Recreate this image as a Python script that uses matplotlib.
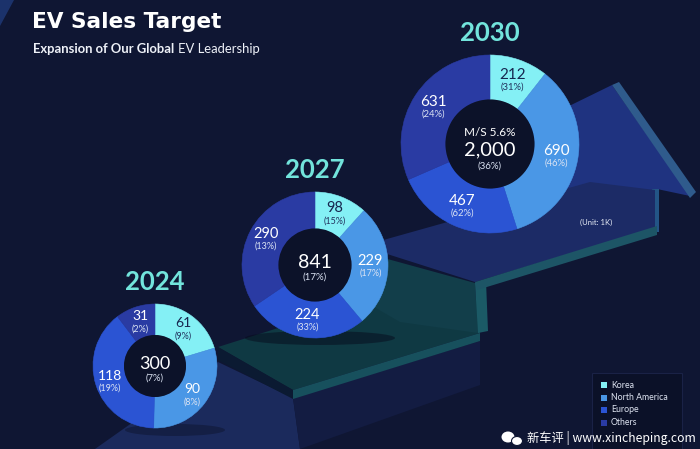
import matplotlib
matplotlib.use("Agg")
import matplotlib.pyplot as plt
from matplotlib.patches import Polygon, Circle, Rectangle, Ellipse
import numpy as np

# ---------------- data ----------------
regions = ["Korea", "North America", "Europe", "Others"]
years = ["2024", "2027", "2030"]
values_2024 = [61, 90, 118, 31]
values_2027 = [98, 229, 224, 290]
values_2030 = [212, 690, 467, 631]
growth_2024 = ["(9%)", "(8%)", "(19%)", "(2%)"]
growth_2027 = ["(15%)", "(17%)", "(33%)", "(13%)"]
growth_2030 = ["(31%)", "(46%)", "(62%)", "(24%)"]
totals = ["300", "841", "2,000"]
total_growth = ["(7%)", "(17%)", "(36%)"]
market_share_2030 = "M/S 5.6%"

# ---------------- style ----------------
W, H = 700, 449
BG = "#0f1633"
colors = ["#84f0f5", "#4a97e6", "#2b54d3", "#2a3ba3"]
year_color = "#72e4dc"
FONT = "Lato"

fig = plt.figure(figsize=(W / 100, H / 100), dpi=100, facecolor=BG)
ax = fig.add_axes([0, 0, 1, 1])
ax.set_facecolor(BG)


def Y(y):
    return H - y


def poly(pts, color, z=1, alpha=1.0):
    ax.add_patch(Polygon([(x, Y(y)) for x, y in pts], closed=True,
                         facecolor=color, edgecolor="none", zorder=z, alpha=alpha))


# ---------------- decorative staircase background ----------------
poly([(0, 0), (14, 0), (0, 26)], "#1f3a7a", 1, 0.8)
# lower step surface
poly([(95, 449), (218, 362), (293, 398), (300, 449)], "#1b2a5c", 1)
# front face of middle step
poly([(293, 398), (480, 341), (480, 385), (300, 449)], "#131c42", 1)
# middle step (teal) top surface
poly([(218, 347), (405, 288), (480, 300), (480, 333), (293, 390)], "#0f3943", 1)
# left dark side of middle step
poly([(218, 347), (293, 390), (293, 399), (218, 360)], "#0b1a32", 2)
# front edge band of middle step
poly([(293, 390), (480, 333), (480, 341), (293, 399)], "#17505d", 2)
# riser of upper step
poly([(362, 252), (475, 283), (478, 333), (400, 322), (362, 300)], "#123e4a", 2)
poly([(475, 283), (486, 281), (488, 331), (478, 333)], "#1b5a66", 2)
# arrow (shaft + head)
poly([(612, 85), (690, 196), (657, 189), (657, 230), (560, 252), (520, 130)], "#1f3380", 1)
poly([(612, 85), (619, 82), (696, 192), (690, 198)], "#2f5b8c", 2)
poly([(652, 189), (659, 189), (659, 232), (652, 232)], "#235586", 2)
# upper step surface
poly([(362, 246), (590, 182), (655, 190), (655, 228), (475, 282)], "#1c2b66", 2)
poly([(475, 282), (657, 226), (657, 235), (477, 290)], "#1d5566", 3)
# shadows under donuts
ax.add_patch(Ellipse((175, Y(430)), 100, 12, facecolor="#070b1c", alpha=0.35, zorder=3))
ax.add_patch(Ellipse((320, Y(338)), 150, 14, facecolor="#070b1c", alpha=0.5, zorder=3))

# ---------------- donuts ----------------
donuts = [
    dict(vals=values_2024, pct=growth_2024, c=(155, 366), r=62, nfs=10, pfs=6.5),
    dict(vals=values_2027, pct=growth_2027, c=(315, 265), r=73, nfs=10.5, pfs=6.5),
    dict(vals=values_2030, pct=growth_2030, c=(490, 144), r=89, nfs=11, pfs=6.8),
]

for d, yr, tot, tg in zip(donuts, years, totals, total_growth):
    cx, cy = d["c"]
    r = d["r"]
    vals = d["vals"]
    wedges, _ = ax.pie(vals, colors=colors, startangle=90, counterclock=False,
                       center=(cx, Y(cy)), radius=r,
                       wedgeprops=dict(width=r * 0.5, linewidth=0.4, zorder=5))
    for w, c in zip(wedges, colors):
        w.set_edgecolor(c)
    ax.add_patch(Circle((cx, Y(cy)), r * 0.5, facecolor="#0c1229", edgecolor="none", zorder=6))
    total = float(sum(vals))
    cum = 0.0
    for i, v in enumerate(vals):
        t1 = 90 - 360 * cum / total
        cum += v
        t2 = 90 - 360 * cum / total
        mid = np.deg2rad((t1 + t2) / 2)
        ax_x = cx + 0.76 * r * np.cos(mid)
        ax_y = Y(cy) + 0.76 * r * np.sin(mid)
        col = "#17264f" if i == 0 else "white"
        pcol = "#22335e" if i == 0 else "#dbe3f3"
        ax.text(ax_x, ax_y + 5, str(v), ha="center", va="center", fontsize=d["nfs"],
                color=col, family=FONT, zorder=8)
        ax.text(ax_x, ax_y - 7.5, d["pct"][i], ha="center", va="center", fontsize=d["pfs"],
                color=pcol, family=FONT, zorder=8)
    # year label
    ax.text(cx, Y(cy - r - 22), yr, ha="center", va="center", fontsize=18.5,
            fontweight="bold", color=year_color, family=FONT, zorder=8)

# centre texts
ax.text(155, Y(364), totals[0], ha="center", va="center", fontsize=13, color="white",
        family=FONT, zorder=8)
ax.text(155, Y(378), total_growth[0], ha="center", va="center", fontsize=6.8,
        color="#dbe3f3", family=FONT, zorder=8)
ax.text(315, Y(262), totals[1], ha="center", va="center", fontsize=14, color="white",
        family=FONT, zorder=8)
ax.text(315, Y(277), total_growth[1], ha="center", va="center", fontsize=7,
        color="#dbe3f3", family=FONT, zorder=8)
ax.text(490, Y(132), market_share_2030, ha="center", va="center", fontsize=8.5,
        color="white", family=FONT, zorder=8)
ax.text(490, Y(150), totals[2], ha="center", va="center", fontsize=14.5, color="white",
        family=FONT, zorder=8)
ax.text(490, Y(166), total_growth[2], ha="center", va="center", fontsize=7,
        color="#dbe3f3", family=FONT, zorder=8)

ax.text(580, Y(222), "(Unit: 1K)", ha="left", va="center", fontsize=5.5, color="#e6ebf5",
        family=FONT, zorder=8)

# ---------------- titles ----------------
ax.text(32, Y(22), "EV Sales Target", ha="left", va="center", fontsize=15.6,
        fontweight="bold", color="white", family="DejaVu Sans", zorder=8)
t1 = ax.text(33, Y(55), "Expansion of Our Global", ha="left", va="bottom", fontsize=9.4,
             fontweight="bold", color="#eef1f8", family=FONT, zorder=8)
ax.annotate("EV Leadership", xy=(1, 0), xycoords=t1, xytext=(2.5, 0),
            textcoords="offset points", ha="left", va="bottom", fontsize=9.4,
            color="#eef1f8", family=FONT, zorder=8)

# ---------------- legend ----------------
ax.add_patch(Rectangle((592, Y(449)), 90, 449 - 373, facecolor="#0b1128",
                       edgecolor="#1a2246", linewidth=0.8, zorder=7))
for i, (name, c) in enumerate(zip(regions, colors)):
    yy = 385 + i * 12.5
    ax.add_patch(Rectangle((601, Y(yy) - 3), 6, 6, facecolor=c, edgecolor="none", zorder=8))
    ax.text(611, Y(yy), name, ha="left", va="center", fontsize=6.3, color="#dfe5f2",
            family=FONT, zorder=8)

# ---------------- watermark ----------------
ax.add_patch(Ellipse((508, Y(437)), 13, 11, facecolor="white", edgecolor="none", zorder=9))
ax.add_patch(Ellipse((517, Y(441)), 11, 9, facecolor="white", edgecolor=BG, linewidth=0.8, zorder=9))
ax.text(696, Y(438), "新车评 | www.xincheping.com", ha="right", va="center", fontsize=8.8,
        color="white", family=["Noto Sans CJK SC", "DejaVu Sans"], zorder=9)

ax.set_xlim(0, W)
ax.set_ylim(0, H)
ax.set_aspect("auto")
ax.axis("off")

fig.savefig("out.png", dpi=100, facecolor=BG)
